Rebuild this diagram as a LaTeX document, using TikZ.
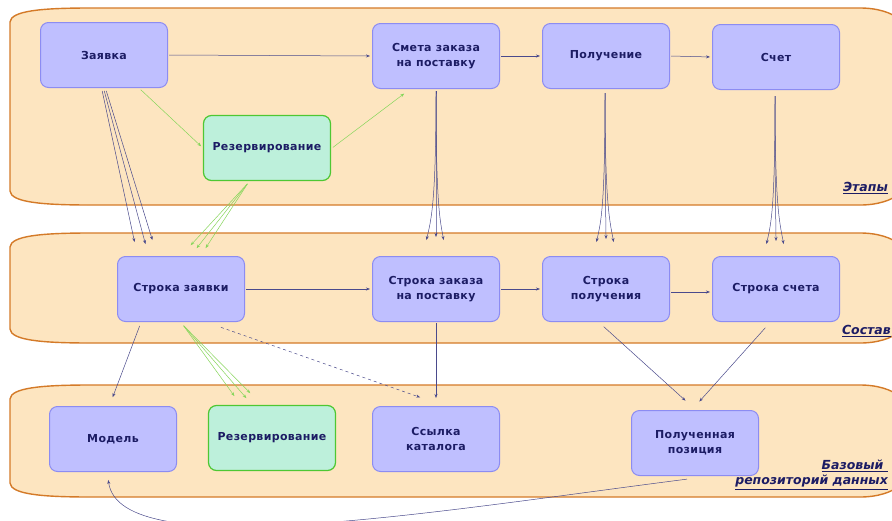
\documentclass[tikz,border=0pt]{standalone}
\usepackage{fontspec}
\setmainfont{DejaVu Sans}
\usetikzlibrary{arrows.meta,calc}

\definecolor{cfondo}{HTML}{FDE5C0}
\definecolor{cborde}{HTML}{D47A28}
\definecolor{ccaja}{HTML}{BFBFFF}
\definecolor{ccajaborde}{HTML}{8C8CF2}
\definecolor{cverde}{HTML}{BDF0DB}
\definecolor{cverdeborde}{HTML}{4EC733}
\definecolor{ctexto}{HTML}{1C1C64}
\definecolor{clinea}{HTML}{4A4A8C}
\definecolor{clineaverde}{HTML}{86D65A}

\begin{document}
\begin{tikzpicture}[x=1pt, y=-1pt, >={Stealth[length=4pt,width=3pt]},
  caja/.style={rectangle, rounded corners=8pt, draw=ccajaborde, fill=ccaja, line width=1pt,
    minimum width=127pt, minimum height=65pt, align=center, text=ctexto,
    font=\fontsize{11}{15}\selectfont\bfseries\addfontfeatures{LetterSpace=3}},
  reserva/.style={caja, draw=cverdeborde, fill=cverde, line width=1.2pt},
  banda/.style={draw=cborde, fill=cfondo, line width=1.4pt},
  flecha/.style={->, draw=clinea, line width=0.5pt, shorten >=2pt, shorten <=1pt},
  flechaverde/.style={->, draw=clineaverde, line width=0.5pt, shorten >=1pt, shorten <=1pt},
  etiqueta/.style={text=ctexto, font=\fontsize{12.5}{15}\selectfont\bfseries\itshape, inner sep=0pt}]

\useasboundingbox (0,0) rectangle (892,520);
\fill[white] (0,0) rectangle (892,520);

% Bandas de fondo
\foreach \t/\b in {8/205, 233/343, 385/497}{
  \draw[banda] (10,\t+14) .. controls (11,\t+3) and (40,\t) .. (90,\t) -- (860,\t)
    .. controls (895,\t) and (915,\t+18) .. (915,\t+40) -- (915,\b-40)
    .. controls (915,\b-18) and (895,\b) .. (860,\b) -- (90,\b)
    .. controls (40,\b) and (11,\b-3) .. (10,\b-14) -- cycle;
}

% Etiquetas de las bandas
\node[etiqueta, anchor=east] (lbetapas) at (888,188) {\underline{Этапы}};
\node[etiqueta, anchor=east] (lbsostav) at (891,331) {\underline{Состав}};
\node[etiqueta, anchor=east, align=right] (lbbaza) at (888,475)
  {\underline{Базовый }\\\underline{репозиторий данных}};

% Etapas
\node[caja] (zv) at (104,55) {Заявка};
\node[caja] (sm) at (436,56) {Смета заказа\\на поставку};
\node[caja] (pl) at (606,56) {Получение};
\node[caja] (sc) at (776,57) {Счет};
\node[reserva] (rz1) at (267,148) {Резервирование};

% Composicion
\node[caja] (sz) at (181,289) {Строка заявки};
\node[caja] (sp) at (436,289) {Строка заказа\\на поставку};
\node[caja] (spl) at (606,289) {Строка\\получения};
\node[caja] (ssc) at (776,289) {Строка счета};

% Repositorio
\node[caja] (mo) at (113,439) {Модель};
\node[reserva] (rz2) at (272,438) {Резервирование};
\node[caja] (ss) at (436,439) {Ссылка\\каталога};
\node[caja] (pp) at (695,443) {Полученная\\позиция};

% Transiciones horizontales
\draw[flecha] (zv.east) -- (sm.west);
\draw[flecha] (sm.east) -- (pl.west);
\draw[flecha] (pl.east) -- (sc.west);
\draw[flecha] (sz.east) -- (sp.west);
\draw[flecha] (sp.east) -- (spl.west);
\draw[flecha] ($(spl.east)+(0,3)$) -- ($(ssc.west)+(0,3)$);

% Reservas arriba
\draw[flechaverde] ($(zv.south)+(36,1)$) -- ($(rz1.west)+(-1,-1)$);
\draw[flechaverde] ($(rz1.east)+(1,0)$) -- ($(sm.south)+(-31,4)$);

% Haces de la etapa a la composicion
\foreach \dx/\ex/\ey in {-2/-46/-12, 0/-35/-10, 2/-28/-14}
  \draw[flecha] ($(zv.south)+(\dx,2)$) -- ($(sz.north)+(\ex,\ey)$);
\foreach \ex/\ey in {9/-10, 15/-7, 24/-7}
  \draw[flechaverde] ($(rz1.south)+(-19,2)$) -- ($(sz.north)+(\ex,\ey)$);
\foreach \ex/\ey in {-10/-14, 0/-17, 8/-14}{
  \draw[flecha] ($(sm.south)+(0,1)$) .. controls +(0,115) and +(-\ex/2,-22) .. ($(sp.north)+(\ex,\ey)$);
  \draw[flecha] ($(pl.south)+(-1,3)$) .. controls +(0,115) and +(-\ex/2,-22) .. ($(spl.north)+(\ex,\ey+2)$);
  \draw[flecha] ($(sc.south)+(-1,5)$) .. controls +(0,115) and +(-\ex/2,-22) .. ($(ssc.north)+(\ex,\ey+4)$);
}

% De la composicion al repositorio
\draw[flecha] ($(sz.south)+(-41,3)$) -- ($(mo.north)+(-1,-7)$);
\foreach \ex/\ey in {-37/-8, -25/-6, -21/-11}
  \draw[flechaverde] ($(sz.south)+(2,3)$) -- ($(rz2.north)+(\ex,\ey)$);
\draw[flecha, dashed] ($(sz.south)+(39,5)$) -- ($(ss.north)+(-14,-8)$);
\draw[flecha] (sp.south) -- ($(ss.north)+(0,-6)$);
\draw[flecha] ($(spl.south)+(-3,4)$) -- ($(pp.north)+(-8,-8)$);
\draw[flecha] ($(ssc.south)+(-10,5)$) -- ($(pp.north)+(3,-7)$);

% Vuelta a Modelo
\draw[flecha] ($(pp.south)+(-7,3)$) .. controls (430,512) and (120,565) .. ($(mo.south)+(-5,6)$);

\end{tikzpicture}
\end{document}
